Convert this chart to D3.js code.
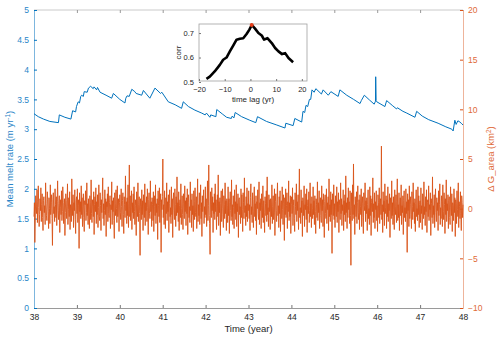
<!DOCTYPE html>
<html>
<head>
<meta charset="utf-8">
<script src="https://cdn.jsdelivr.net/npm/d3@7"></script>
<style>
    body { margin: 0; background: #fff; }
    svg { font-family: "Liberation Sans", Arial, sans-serif; }
</style>
</head>
<body>
<div id="chart"></div>
<script>
// blue series: mean melt rate (m/yr), vertices
const meltYears = [38.00, 38.10, 38.22, 38.37, 38.57, 38.59, 38.72, 38.86, 38.90, 38.97, 38.99, 39.03, 39.06, 39.09,
    39.11, 39.15, 39.17, 39.24, 39.27, 39.32, 39.38, 39.40, 39.46, 39.48, 39.54, 39.68, 39.81, 39.85, 40.00, 40.12,
    40.14, 40.17, 40.22, 40.28, 40.35, 40.38, 40.51, 40.55, 40.70, 40.82, 40.95, 40.98, 41.13, 41.29, 41.44, 41.48,
    41.60, 41.75, 41.91, 41.99, 42.02, 42.10, 42.12, 42.24, 42.26, 42.40, 42.49, 42.60, 42.62, 42.66, 42.69, 42.84,
    43.03, 43.17, 43.21, 43.42, 43.66, 43.85, 43.87, 44.04, 44.08, 44.24, 44.27, 44.31, 44.34, 44.38, 44.42, 44.45,
    44.48, 44.53, 44.57, 44.70, 44.74, 44.86, 44.92, 45.09, 45.13, 45.29, 45.45, 45.60, 45.63, 45.70, 45.82, 45.93,
    45.96, 45.965, 45.975, 45.99, 46.18, 46.22, 46.35, 46.45, 46.47, 46.60, 46.69, 46.88, 46.92, 47.05, 47.20, 47.42,
    47.60, 47.74, 47.77, 47.81, 47.84, 47.88, 47.91, 47.96, 48.00];
const meltRates = [3.26, 3.21, 3.17, 3.13, 3.11, 3.24, 3.20, 3.17, 3.31, 3.29, 3.38, 3.46, 3.44, 3.55,
    3.57, 3.55, 3.63, 3.62, 3.69, 3.72, 3.68, 3.71, 3.66, 3.70, 3.62, 3.57, 3.52, 3.60, 3.50, 3.44,
    3.52, 3.56, 3.55, 3.67, 3.63, 3.60, 3.57, 3.65, 3.52, 3.69, 3.60, 3.62, 3.46, 3.41, 3.35, 3.46,
    3.38, 3.32, 3.27, 3.24, 3.27, 3.20, 3.24, 3.21, 3.33, 3.25, 3.20, 3.18, 3.22, 3.19, 3.28, 3.21,
    3.15, 3.11, 3.21, 3.13, 3.07, 3.02, 3.10, 3.06, 3.18, 3.12, 3.30, 3.28, 3.40, 3.38, 3.50, 3.50,
    3.66, 3.62, 3.68, 3.59, 3.66, 3.57, 3.63, 3.55, 3.66, 3.57, 3.50, 3.43, 3.48, 3.57, 3.49, 3.42,
    3.47, 3.88, 3.48, 3.46, 3.38, 3.48, 3.40, 3.34, 3.36, 3.30, 3.27, 3.20, 3.30, 3.22, 3.16, 3.10,
    3.04, 3.00, 2.97, 3.15, 3.08, 3.14, 3.13, 3.10, 3.07];

// orange series: change of G area (km^2), samples evenly spaced from 38 to 48
const areaChange = [
    -0.8,0.6,-3.4,-1.1,1.3,0.2,-0.5,1.9,-1.4,0.7,2.3,0.1,-1.8,-0.6,1.0,-0.2,2.1,-1.3,0.4,1.5,-0.9,-2.2,0.8,1.2,-0.4,0.3,-1.6,2.6,0.5,-0.7,-1.2,1.7,0.9,-0.3,-2.0,1.1,0.0,-1.5,2.4,-0.6,0.6,1.4,-1.0,-3.7,0.9,1.6,-0.5,0.2,-1.3,2.0,
    0.4,-0.9,1.2,-1.7,0.7,2.8,-0.2,-1.1,0.5,1.3,-2.4,0.1,0.9,-0.6,1.8,-1.2,-0.3,2.2,0.6,-1.5,0.3,1.0,-2.7,-0.4,1.5,0.8,-1.0,0.2,2.5,-1.6,-0.1,1.1,-0.8,1.7,-2.1,0.4,0.0,-1.3,3.0,0.5,-0.7,1.4,-1.9,0.6,-0.2,1.9,-1.1,-2.5,0.8,1.2,
    -0.5,2.0,-1.4,0.3,0.9,-4.0,1.6,-0.3,0.7,-1.0,2.3,-0.6,1.1,-1.8,0.2,1.5,-0.9,-2.3,0.8,0.4,1.8,-1.2,-0.4,2.6,-0.7,0.5,-1.6,1.0,-0.1,-2.0,1.3,0.6,-1.1,2.9,-0.5,-1.4,0.9,0.2,-0.8,1.7,-2.6,0.4,1.2,-0.3,2.1,-1.5,0.7,-0.6,1.4,-1.9,
    0.1,2.4,-0.8,-1.2,1.6,0.3,-2.2,0.9,-0.4,1.2,3.1,-1.0,0.5,-1.7,-0.2,1.9,-0.6,1.0,-2.8,0.7,0.2,1.5,-1.3,2.2,-0.5,-0.9,0.6,1.3,-2.0,0.4,-0.1,2.7,-1.6,0.8,-0.3,1.1,-1.2,-3.0,1.6,0.5,-0.7,1.9,0.0,-1.4,2.3,-0.8,0.3,1.0,-2.3,0.6,
    1.4,-0.4,-1.1,2.0,0.2,-1.8,0.8,1.6,-0.6,-2.5,1.2,0.4,-0.9,3.3,-0.2,0.7,-1.5,1.1,-0.7,2.4,-1.9,0.5,4.4,-0.8,1.3,-1.2,0.1,1.8,-2.1,0.6,-0.4,1.5,-1.0,2.2,-0.3,-1.6,0.9,0.3,-2.7,1.7,0.0,-0.8,2.6,-1.3,0.4,1.2,-0.5,-4.7,1.0,0.2,
    -1.1,1.9,-0.6,0.8,-2.2,1.4,0.3,-0.9,2.5,-1.7,0.6,-0.2,1.2,-1.3,2.0,0.1,-2.6,0.9,1.6,-0.5,-1.0,2.8,-0.3,0.7,-1.8,1.1,0.4,-1.2,1.7,-2.3,0.2,1.3,-0.7,2.4,-1.5,0.5,-0.4,1.0,-3.1,1.8,0.3,-0.8,2.1,-1.4,0.6,1.5,-4.4,0.9,-0.1,1.2,
    5.0,-0.9,0.4,-1.6,1.8,0.2,-2.0,1.1,-0.5,2.6,-1.2,0.7,-0.3,1.4,-2.4,0.5,1.9,-0.8,0.1,-1.5,2.2,-0.6,1.0,-2.9,0.8,1.6,-0.2,-1.1,2.0,0.4,-1.8,1.2,-0.7,3.2,-0.4,0.6,-1.3,1.7,-2.2,0.3,0.9,-0.9,2.5,-1.6,0.0,1.3,-0.6,-2.1,1.5,0.5,
    -1.0,2.3,-0.3,0.8,-1.7,1.1,-0.5,2.0,-2.6,0.6,1.4,-0.9,0.2,-1.4,2.7,-0.2,0.9,-1.9,1.5,-0.6,0.3,-2.3,1.8,0.7,-1.1,2.1,-0.4,-0.8,1.2,-2.0,0.5,3.0,-1.3,0.4,-0.7,1.6,-1.6,0.1,2.4,-1.0,0.6,-2.8,1.3,-0.3,0.8,1.9,-1.5,0.2,-0.9,2.2,
    -0.6,1.0,-1.8,0.5,2.8,-1.2,0.3,4.4,-0.7,-1.5,-4.6,1.7,0.4,-0.9,2.1,-0.2,1.2,-2.4,0.6,-0.5,1.5,-1.1,2.5,-0.3,0.9,-2.1,0.2,1.4,-0.8,3.4,-1.7,0.7,-0.4,1.1,-2.7,0.5,1.8,-1.3,0.0,2.0,-0.6,-1.9,1.3,0.4,-1.0,2.6,-0.5,0.8,-2.2,1.0,
    0.3,-1.4,2.2,-0.7,1.0,-2.5,0.6,1.7,-0.2,-1.2,2.9,-0.8,0.4,-1.6,1.3,0.1,-2.0,1.9,-0.5,0.7,-1.1,2.4,-1.8,0.5,-0.3,1.5,-2.9,0.9,1.1,-0.6,0.2,-1.5,2.0,-0.9,1.4,-0.1,-2.3,1.6,0.6,-1.0,3.1,-0.4,0.3,-1.7,1.2,-0.8,2.1,-1.3,0.5,-0.2,
    1.8,-1.0,0.4,-2.2,1.1,2.5,-0.6,0.2,-1.4,1.6,-0.3,-1.9,0.9,2.2,-0.8,0.5,-1.2,1.3,-2.6,0.7,0.0,1.9,-0.5,-1.1,2.7,-1.6,0.6,-0.2,1.0,-2.0,1.5,0.3,-0.9,2.3,-1.4,0.8,-0.4,-2.4,1.2,0.5,-0.7,1.8,-1.3,3.2,-0.6,0.1,-1.8,1.4,-0.3,0.9,
    -2.1,1.0,0.6,-0.8,2.4,-1.5,0.2,1.3,-1.1,-0.4,2.0,-2.7,0.7,1.5,-0.2,-1.3,0.9,2.6,-0.7,0.3,-1.9,1.2,-0.5,1.8,-2.3,0.4,0.8,-1.0,2.2,-0.1,-1.6,1.4,0.5,-3.2,1.1,-0.6,2.0,-0.9,0.3,1.6,-2.0,0.7,-0.3,2.8,-1.2,0.6,-0.8,1.3,-2.5,0.4,
    1.2,-0.5,2.1,-1.7,0.3,0.9,-1.0,-2.3,1.6,0.2,-0.6,2.5,-1.3,0.7,-0.2,1.4,-2.1,0.5,4.0,-0.9,0.1,-1.5,1.9,-0.4,0.8,-2.8,1.1,0.6,-0.7,2.3,-1.8,0.4,-0.1,1.5,-1.1,2.0,-2.4,0.3,0.9,-0.5,1.7,-1.4,-0.2,2.6,-0.8,0.5,-1.9,1.2,0.0,-1.0,
    2.2,-0.6,0.8,-1.6,1.3,-0.3,-2.5,1.0,0.4,-0.9,2.7,-1.2,0.6,-0.4,1.8,-2.0,0.2,1.1,-0.7,-1.4,2.3,-0.2,0.9,-1.8,1.5,0.3,-2.9,0.7,1.4,-0.5,-1.0,2.0,-1.5,0.6,-0.1,1.2,-2.2,3.0,-0.8,0.4,-1.3,1.7,-0.6,0.9,-4.5,1.5,0.2,-0.7,2.4,-1.1,
    0.5,-1.9,1.3,0.1,-0.8,2.2,-1.4,0.7,-0.3,1.6,-2.4,0.9,0.3,-1.1,2.6,-0.5,1.0,-1.7,0.4,-0.2,1.9,-2.2,0.8,-0.6,1.4,-1.3,3.3,-0.4,0.6,-2.0,1.1,-0.9,2.1,-0.1,0.7,-1.5,1.8,-0.7,-5.7,1.6,0.2,-1.2,2.4,-0.6,4.5,-1.0,0.4,-2.6,1.2,0.3,
    -0.8,1.7,-1.5,0.6,2.3,-0.4,-1.1,0.9,-2.1,1.4,0.2,-0.6,2.0,-1.8,0.5,1.2,-0.9,-2.5,1.6,0.3,-0.2,2.6,-1.3,0.8,-0.5,1.1,-2.2,0.4,1.9,-1.0,0.0,-1.6,2.2,-0.7,1.3,-2.7,0.6,1.0,-0.3,3.1,-1.4,0.5,-0.9,1.6,-2.0,0.7,-0.1,1.8,-1.2,0.3,
    -2.3,1.4,0.6,-0.9,2.1,-1.5,0.2,1.0,-0.6,6.3,-1.1,0.4,-2.4,1.7,-0.3,0.8,-1.7,2.5,-0.5,0.1,1.3,-2.0,0.9,-0.8,2.2,-1.3,0.5,-0.2,1.5,-2.9,1.1,0.3,-1.0,2.8,-0.7,0.6,-1.6,1.2,-0.4,-2.1,1.9,0.2,-0.6,1.4,-1.4,0.7,3.0,-1.2,0.4,-0.9,
    1.6,-2.2,0.5,1.1,-0.7,2.4,-1.6,0.3,-0.4,1.3,-2.6,0.8,1.8,-0.9,0.1,-1.3,2.0,-0.5,0.7,-4.4,1.5,-0.2,0.9,-1.8,2.3,-1.0,0.4,1.2,-0.6,-2.0,1.7,0.2,-1.1,2.6,-0.3,0.6,-1.5,1.0,-2.3,0.5,1.9,-0.8,0.0,-1.2,2.2,-0.6,1.3,-1.9,0.4,0.8,
    -1.4,2.1,-0.5,0.3,-2.1,1.5,0.7,-1.0,2.7,-0.6,0.2,-1.7,1.2,-0.3,1.9,-2.4,0.6,0.9,-0.8,2.3,-1.2,0.4,-0.1,1.6,-2.7,1.0,0.5,-0.9,3.2,-1.5,0.3,-0.6,1.4,-1.9,0.8,2.0,-0.4,-1.3,1.1,-0.2,0.6,-2.2,1.8,-0.7,0.4,2.5,-1.6,0.1,-1.0,1.3,
    0.7,-1.8,2.4,-0.3,-1.1,1.6,0.4,-2.5,1.0,-0.6,2.9,-1.3,0.5,-0.2,1.4,-2.0,0.8,1.2,-0.9,-1.6,2.2,0.1,-0.7,1.5,-2.3,0.6,0.3,-1.2,2.0,-0.4,1.1,-2.8,0.9,0.5,-1.5,1.8,-0.1,-0.8,2.6,-1.9,0.7,0.2,-1.0,1.7,-0.5,-2.2,1.3,0.6,-0.9,0.4];

// inset: correlation vs time lag
const lagYears = [-17.1, -15.8, -13.9, -11.9, -10.6, -9.3, -8.0, -6.7, -5.4, -4.1, -2.8, -1.5, -0.4, 0.5,
    1.8, 3.1, 4.4, 5.3, 6.6, 8.3, 9.6, 10.9, 12.3, 13.5, 14.8, 16.6];
const lagCorr = [0.513, 0.522, 0.543, 0.570, 0.591, 0.600, 0.625, 0.649, 0.673, 0.677, 0.679, 0.696, 0.714, 0.733,
    0.718, 0.700, 0.690, 0.673, 0.679, 0.659, 0.639, 0.625, 0.614, 0.618, 0.598, 0.581];
const peakLag = 0.5, peakCorr = 0.733;

const yearTicks = [38, 39, 40, 41, 42, 43, 44, 45, 46, 47, 48];
const meltTicks = [0, 0.5, 1, 1.5, 2, 2.5, 3, 3.5, 4, 4.5, 5];
const areaTicks = [-10, -5, 0, 5, 10, 15, 20];
const lagTicks = [-20, -10, 0, 10, 20];
const corrTicks = [0.5, 0.6, 0.7];

const blue = "#0072bd", orange = "#d95319", grey = "#262626";
const font = "Liberation Sans, Arial, sans-serif";

function drawChart() {
    const W = 500, H = 339;
    const margin = {top: 10, right: 37, bottom: 31, left: 34},
        width = W - margin.left - margin.right,
        height = H - margin.top - margin.bottom;

    const svg = d3.select("#chart")
        .append("svg")
        .attr("width", W)
        .attr("height", H)
        .append("g")
        .attr("transform", `translate(${margin.left},${margin.top})`);

    const x = d3.scaleLinear().domain([38, 48]).range([0, width]);
    const yL = d3.scaleLinear().domain([0, 5]).range([height, 0]);
    const yR = d3.scaleLinear().domain([-10, 20]).range([height, 0]);

    // box top line
    svg.append("line")
        .attr("x1", 0).attr("x2", width).attr("y1", 0).attr("y2", 0)
        .attr("stroke", "#bdbdbd").attr("stroke-width", 0.8);

    // bottom axis, ticks pointing in
    const gx = svg.append("g")
        .attr("transform", `translate(0,${height})`)
        .call(d3.axisBottom(x).tickValues(yearTicks).tickSizeInner(-3).tickSizeOuter(0).tickPadding(6))
        .attr("font-family", font);
    // matching ticks on the top edge
    svg.append("g")
        .call(d3.axisTop(x).tickValues(yearTicks).tickSizeInner(-3).tickSizeOuter(0).tickFormat(""))
        .call(g => g.select(".domain").remove())
        .selectAll("line").attr("stroke", "#999");

    gx.select(".domain").attr("stroke", "#9a9a9a");
    gx.selectAll("line").attr("stroke", "#777");
    gx.selectAll("text").attr("fill", grey).style("font-size", "8.5px");

    const gl = svg.append("g")
        .call(d3.axisLeft(yL).tickValues(meltTicks).tickSizeInner(-3).tickSizeOuter(0).tickPadding(5)
            .tickFormat(d3.format("~g")))
        .attr("font-family", font);
    gl.select(".domain").attr("stroke", "#7db6de");
    gl.selectAll("line").attr("stroke", blue);
    gl.selectAll("text").attr("fill", "#2a86c8").style("font-size", "8.5px");

    const gr = svg.append("g")
        .attr("transform", `translate(${width},0)`)
        .call(d3.axisRight(yR).tickValues(areaTicks).tickSizeInner(-3).tickSizeOuter(0).tickPadding(5))
        .attr("font-family", font);
    gr.select(".domain").attr("stroke", "#eeb49b");
    gr.selectAll("line").attr("stroke", orange);
    gr.selectAll("text").attr("fill", "#e06a38").style("font-size", "8.5px");

    // axis labels
    svg.append("text")
        .attr("x", width / 2).attr("y", height + 24)
        .attr("text-anchor", "middle")
        .attr("fill", grey).style("font-size", "9.5px")
        .text("Time (year)");

    const ml = svg.append("text")
        .attr("transform", `translate(${-21},${yL(2.5)}) rotate(-90)`)
        .attr("text-anchor", "middle")
        .attr("fill", "#2a86c8").style("font-size", "9.5px");
    ml.append("tspan").text("Mean melt rate (m yr");
    ml.append("tspan").attr("dy", -3.5).style("font-size", "6.5px").text("-1");
    ml.append("tspan").attr("dy", 3.5).text(")");

    const al = svg.append("text")
        .attr("transform", `translate(${width + 31},${yL(2.5)}) rotate(-90)`)
        .attr("text-anchor", "middle")
        .attr("fill", "#e06a38").style("font-size", "9.5px");
    al.append("tspan").text("\u0394 G_area (km");
    al.append("tspan").attr("dy", -3.5).style("font-size", "6.5px").text("2");
    al.append("tspan").attr("dy", 3.5).text(")");

    // orange series
    const n = areaChange.length;
    const areaData = areaChange.map((v, i) => [38 + i * 10 / (n - 1), v]);
    svg.append("path")
        .datum(areaData)
        .attr("fill", "none")
        .attr("stroke", orange)
        .attr("stroke-width", 0.9)
        .attr("d", d3.line().x(d => x(d[0])).y(d => yR(d[1])));

    // blue series
    const meltData = meltYears.map((t, i) => [t, meltRates[i]]);
    svg.append("path")
        .datum(meltData)
        .attr("fill", "none")
        .attr("stroke", blue)
        .attr("stroke-width", 1)
        .attr("d", d3.line().x(d => x(d[0])).y(d => yL(d[1])));

    drawInset();
}

function drawInset() {
    // inset box in page coordinates
    const box = {left: 199, top: 24, width: 108, height: 57};
    const g = d3.select("#chart svg").append("g")
        .attr("transform", `translate(${box.left},${box.top})`);

    const ix = d3.scaleLinear().domain([-20, 22]).range([0, box.width]);
    const iy = d3.scaleLinear().domain([0.5, 0.737]).range([box.height + 1, 0]);

    g.append("rect")
        .attr("width", box.width).attr("height", box.height)
        .attr("fill", "#fff").attr("stroke", "#a0a0a0").attr("stroke-width", 0.8);

    const gx = g.append("g")
        .attr("transform", `translate(0,${box.height})`)
        .call(d3.axisBottom(ix).tickValues(lagTicks).tickSizeInner(-2).tickSizeOuter(0).tickPadding(6))
        .attr("font-family", font);
    gx.select(".domain").remove();
    gx.selectAll("line").attr("stroke", "#777");
    gx.selectAll("text").attr("fill", grey).style("font-size", "7.5px");

    const gy = g.append("g")
        .call(d3.axisLeft(iy).tickValues(corrTicks).tickSizeInner(-2).tickSizeOuter(0).tickPadding(5)
            .tickFormat(d3.format("~g")))
        .attr("font-family", font);
    gy.select(".domain").remove();
    gy.selectAll("line").attr("stroke", "#777");
    gy.selectAll("text").attr("fill", grey).style("font-size", "7.5px");

    g.append("text")
        .attr("x", box.width / 2).attr("y", box.height + 21)
        .attr("text-anchor", "middle").attr("fill", grey).style("font-size", "8px")
        .text("time lag (yr)");
    g.append("text")
        .attr("transform", `translate(-18,${box.height / 2}) rotate(-90)`)
        .attr("text-anchor", "middle").attr("fill", grey).style("font-size", "8px")
        .text("corr");

    const lagData = lagYears.map((l, i) => [l, lagCorr[i]]);
    g.append("path")
        .datum(lagData)
        .attr("fill", "none")
        .attr("stroke", "#000")
        .attr("stroke-width", 2.6)
        .attr("stroke-linejoin", "round")
        .attr("d", d3.line().x(d => ix(d[0])).y(d => iy(d[1])));

    g.append("circle")
        .attr("cx", ix(peakLag)).attr("cy", iy(peakCorr))
        .attr("r", 2).attr("fill", "#e8401c");
}

drawChart();
</script>
</body>
</html>
